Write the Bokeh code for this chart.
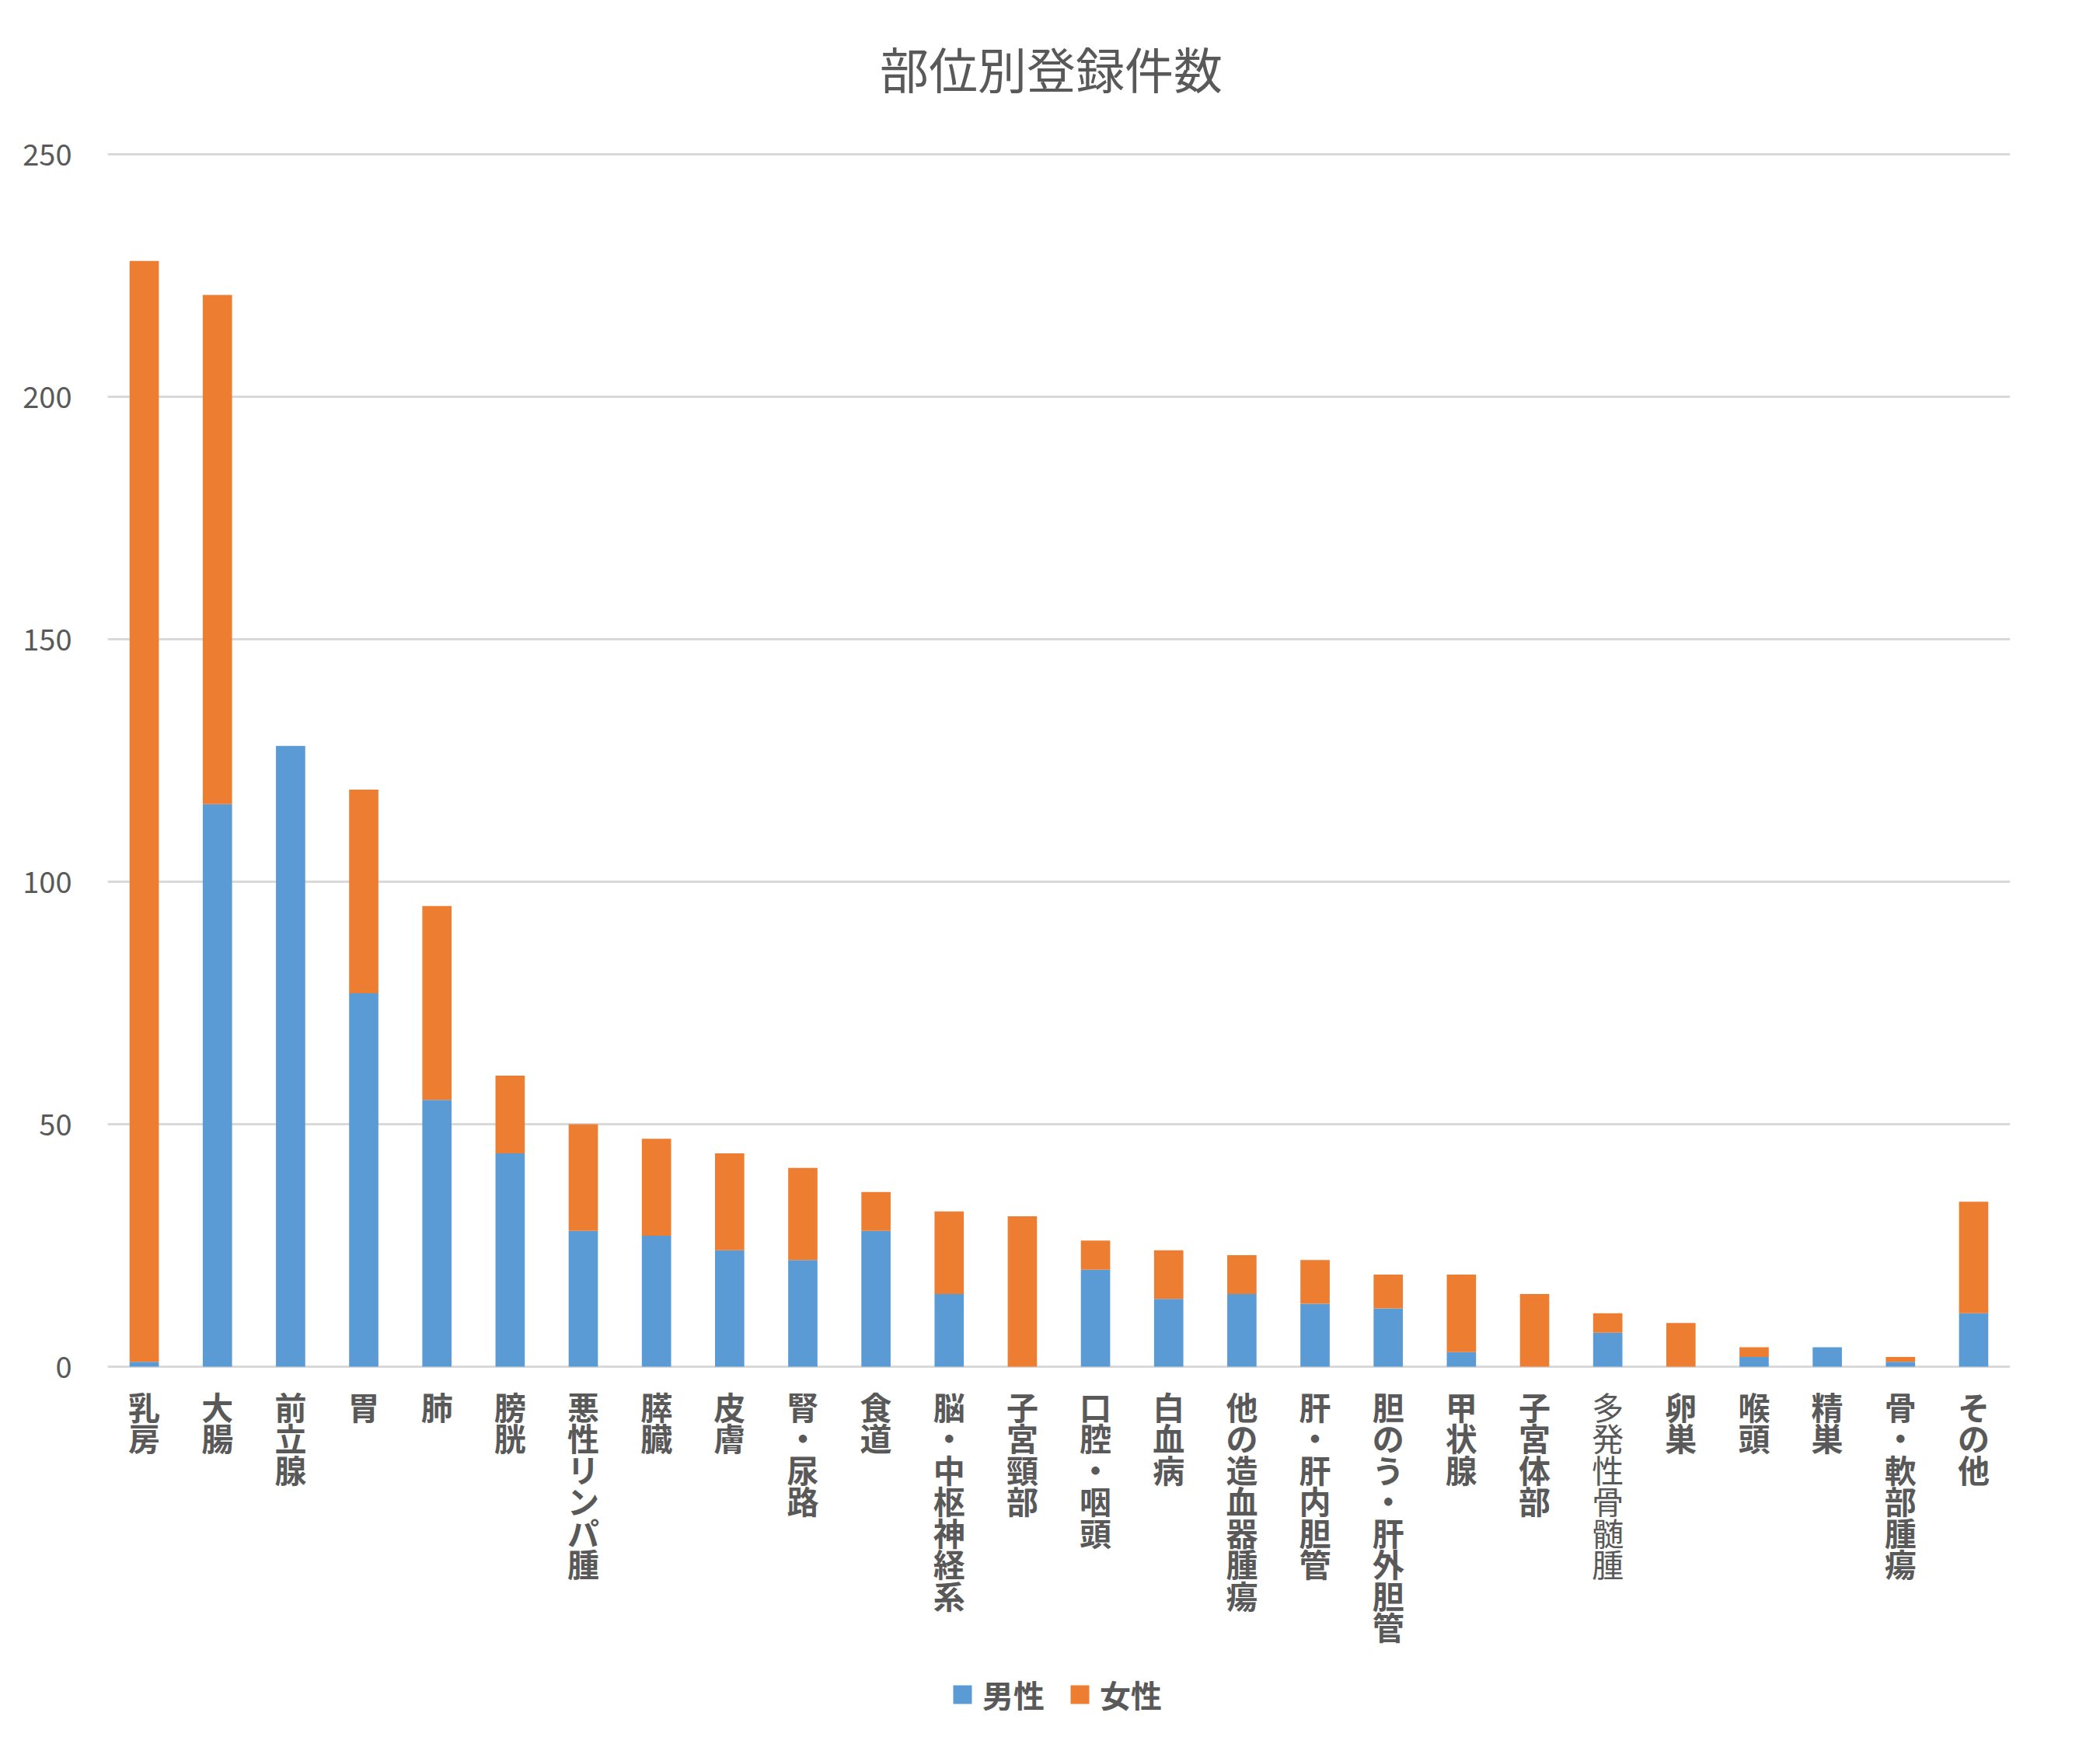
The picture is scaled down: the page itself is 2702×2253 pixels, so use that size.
from bokeh.plotting import figure
from bokeh.models import FactorRange, Range1d, Legend, LegendItem, FixedTicker, ColumnDataSource
from bokeh.core.properties import value
from bokeh.embed import file_html
from bokeh.resources import INLINE

sites = ["乳房", "大腸", "前立腺", "胃", "肺", "膀胱", "悪性リンパ腫", "膵臓", "皮膚", "腎・尿路",
         "食道", "脳・中枢神経系", "子宮頸部", "口腔・咽頭", "白血病", "他の造血器腫瘍", "肝・肝内胆管",
         "胆のう・肝外胆管", "甲状腺", "子宮体部", "多発性骨髄腫", "卵巣", "喉頭", "精巣", "骨・軟部腫瘍", "その他"]
male = [1, 116, 128, 77, 55, 44, 28, 27, 24, 22, 28, 15, 0, 20, 14, 15, 13, 12, 3, 0, 7, 0, 2, 4, 1, 11]
female = [227, 105, 0, 42, 40, 16, 22, 20, 20, 19, 8, 17, 31, 6, 10, 8, 9, 7, 16, 15, 4, 9, 2, 0, 1, 23]
light_labels = ["多発性骨髄腫"]   # drawn in regular weight in the original
y_ticks = [0, 50, 100, 150, 200, 250]
title_text = "部位別登録件数"
series_names = ["男性", "女性"]
colors = ["#5B9BD5", "#ED7D31"]

# layout (pixels)
W, H = 2686, 2237
FL, FR = 138, 2586          # plot area left / right
Y250, Y0 = 198, 1758        # pixel rows of 250 and 0
YMAX = y_ticks[-1]
PPU = (Y0 - Y250) / YMAX
y_lo = -(H - Y0) / PPU
y_hi = YMAX + Y250 / PPU
FONT = "Noto Sans CJK JP"
GRAY = "#595959"

src = ColumnDataSource(dict(site=sites, male=male, female=female))

p = figure(width=W, height=H, x_range=FactorRange(*sites, range_padding=0), y_range=Range1d(y_lo, y_hi),
           output_backend="svg", toolbar_location=None,
           min_border_left=FL, min_border_right=W - FR, min_border_top=0, min_border_bottom=0)
p.outline_line_color = None
p.background_fill_color = "white"
p.border_fill_color = "white"
p.xaxis.visible = False

rs = p.vbar_stack(["male", "female"], x="site", width=0.4, source=src, color=colors, line_color=None)

p.yaxis.ticker = FixedTicker(ticks=y_ticks)
p.yaxis.axis_line_color = None
p.yaxis.major_tick_line_color = None
p.yaxis.minor_tick_line_color = None
p.yaxis.major_label_text_font = FONT
p.yaxis.major_label_text_font_size = "38px"
p.yaxis.major_label_text_color = GRAY
p.yaxis.major_label_standoff = 40

p.xgrid.grid_line_color = None
p.ygrid.grid_line_color = "#D9D9D9"
p.ygrid.grid_line_width = 3

# vertical category labels (one glyph per character)
groups = {"bold": ([], [], []), "normal": ([], [], [])}
for s in sites:
    g = groups["normal" if s in light_labels else "bold"]
    for i, ch in enumerate(s):
        g[0].append(s)
        g[1].append(ch)
        g[2].append(20 + i * 40.5)
for style, (lx, lch, loff) in groups.items():
    p.text(x=lx, y=[0] * len(lx), text=lch, y_offset=loff, text_align="center", text_baseline="top",
           text_font=value(FONT), text_font_style=style, text_font_size="41px", text_color=GRAY)

# title
p.text(x=[len(sites) / 2], y=[y_hi], text=[title_text], x_offset=-10, y_offset=86,
       text_align="center", text_baseline="middle", text_font=value(FONT),
       text_font_size="63px", text_color=GRAY)

legend = Legend(items=[LegendItem(label=series_names[0], renderers=[rs[0]]),
                       LegendItem(label=series_names[1], renderers=[rs[1]])],
                orientation="horizontal", location=(1085, 28),
                glyph_width=30, glyph_height=30, label_standoff=11, spacing=30,
                padding=0, margin=0, border_line_color=None, background_fill_alpha=0,
                label_text_font=FONT, label_text_font_style="bold",
                label_text_font_size="40px", label_text_color=GRAY, label_height=40)
p.add_layout(legend, "center")

open("out.html", "w").write(file_html(p, INLINE))
